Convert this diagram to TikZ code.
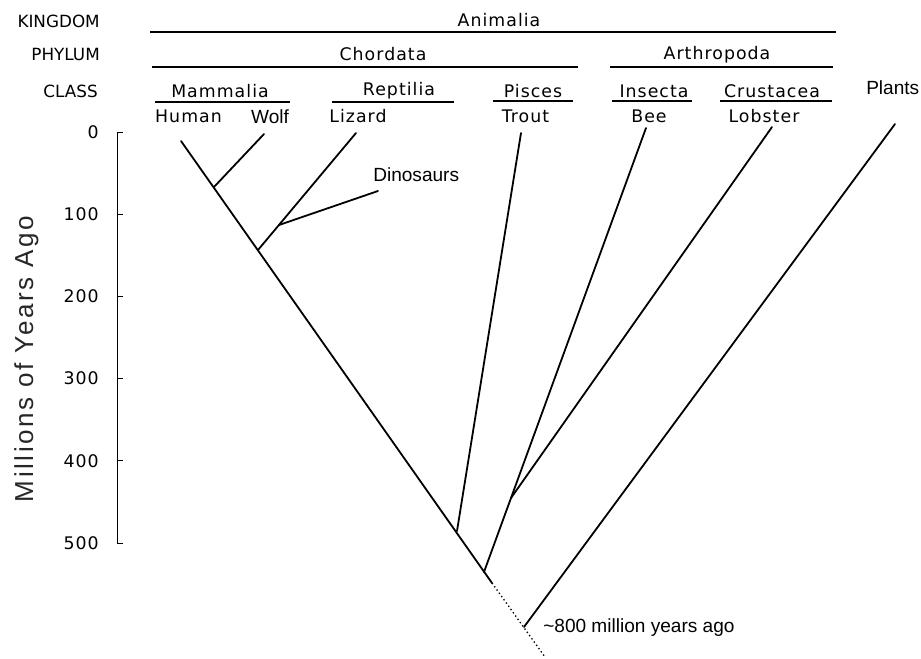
\documentclass[tikz,border=0pt]{standalone}
\usepackage{fontspec}
\setmainfont{Liberation Sans}
\newfontfamily\simplex[LetterSpace=6]{DejaVu Sans}
\newfontfamily\simplexcaps{DejaVu Sans}
\newfontfamily\axisfont[LetterSpace=10]{Liberation Sans}
\begin{document}
\begin{tikzpicture}[x=0.75pt,y=-0.75pt,
  stroke/.style={font=\simplex\fontsize{13}{15}\selectfont,inner sep=0pt},
  heading/.style={font=\simplexcaps\fontsize{12.6}{15}\selectfont,inner sep=0pt,anchor=east},
  arial/.style={font=\fontsize{14.3}{16}\selectfont,inner sep=0pt},
  branch/.style={line width=1.35pt,line cap=round},
  rule/.style={line width=0.9pt},
  axis/.style={line width=0.75pt}]
\useasboundingbox (0,0) rectangle (921,658);
% row headings
\node[heading] (kingdom) at (100,21) {KINGDOM};
\node[heading] (phylum) at (100,54.5) {PHYLUM};
\node[heading] (class) at (98,91) {CLASS};
% taxon labels
\node[stroke] (animalia) at (499,20) {Animalia};
\node[stroke] (chordata) at (383,54.5) {Chordata};
\node[stroke] (arthropoda) at (717,54.5) {Arthropoda};
\node[stroke] (mammalia) at (220,91) {Mammalia};
\node[stroke] (reptilia) at (399,91) {Reptilia};
\node[stroke] (pisces) at (533,91) {Pisces};
\node[stroke] (insecta) at (654,91) {Insecta};
\node[stroke] (crustacea) at (772,91) {Crustacea};
% rules
\draw[rule] (150,32) coordinate (k1) -- (836,32) coordinate (k2);
\draw[rule] (152,67) coordinate (c1) -- (578,67) coordinate (c2);
\draw[rule] (610,67) coordinate (a1) -- (833,67) coordinate (a2);
\draw[rule] (155,102) coordinate (m1) -- (290,102) coordinate (m2);
\draw[rule] (332,102) coordinate (r1) -- (454,102) coordinate (r2);
\draw[rule] (493,101) coordinate (p1) -- (573,101) coordinate (p2);
\draw[rule] (612,101) coordinate (i1) -- (692,101) coordinate (i2);
\draw[rule] (720,101) coordinate (cr1) -- (832,101) coordinate (cr2);
% species labels
\node[stroke] (human) at (188.5,116.5) {Human};
\node[arial] (wolf) at (270,116.5) {Wolf};
\node[stroke] (lizard) at (358,116.5) {Lizard};
\node[stroke] (trout) at (525.5,116.5) {Trout};
\node[stroke] (bee) at (649,116.5) {Bee};
\node[stroke] (lobster) at (764,116.5) {Lobster};
\node[arial,anchor=west] (plants) at (866,88) {Plants};
\node[arial,anchor=west] (dinos) at (373,175) {Dinosaurs};
\node[arial,anchor=west] (age) at (543,628) {\textasciitilde 800 million years ago};
% axis
\node[font=\axisfont\fontsize{19.5}{22}\selectfont,inner sep=0pt,rotate=90,anchor=base,text=black!85] (ylabel) at (33,359) {Millions of Years Ago};
\coordinate (ax0) at (117,132);
\coordinate (ax5) at (117,543);
\draw[axis] (ax0) -- (ax5);
\foreach \v/\y in {0/132,100/214.2,200/296.4,300/378.6,400/460.8,500/543}{
  \draw[axis] (117,\y) -- (123,\y);
  \node[stroke,anchor=east] (t\v) at (99,\y) {\v};
}
% tree coordinates
\coordinate (humanTip) at (181,141);
\coordinate (wolfTip) at (264,134);
\coordinate (lizardTip) at (356,133);
\coordinate (dinoTip) at (378,191);
\coordinate (troutTip) at (521,133);
\coordinate (beeTip) at (646,128);
\coordinate (lobsterTip) at (772,127);
\coordinate (plantTip) at (895,124);
\coordinate (jWolf) at (214,187);
\coordinate (jLizard) at (258,250);
\coordinate (jDino) at (279,225);
\coordinate (jTrout) at (457,531);
\coordinate (jBee) at (484,572);
\coordinate (jLobster) at (511,498);
\coordinate (trunkEnd) at (492,583);
\coordinate (jPlant) at (524,627);
\coordinate (root) at (545,657);
% tree
\draw[branch] (humanTip) -- (trunkEnd);
\draw[branch] (jWolf) -- (wolfTip);
\draw[branch] (jLizard) -- (lizardTip);
\draw[branch] (jDino) -- (dinoTip);
\draw[branch] (jTrout) -- (troutTip);
\draw[branch] (jBee) -- (beeTip);
\draw[branch] (jLobster) -- (lobsterTip);
\draw[branch] (jPlant) -- (plantTip);
\draw[line width=1pt,dotted] (trunkEnd) -- (root);
\end{tikzpicture}
\end{document}
